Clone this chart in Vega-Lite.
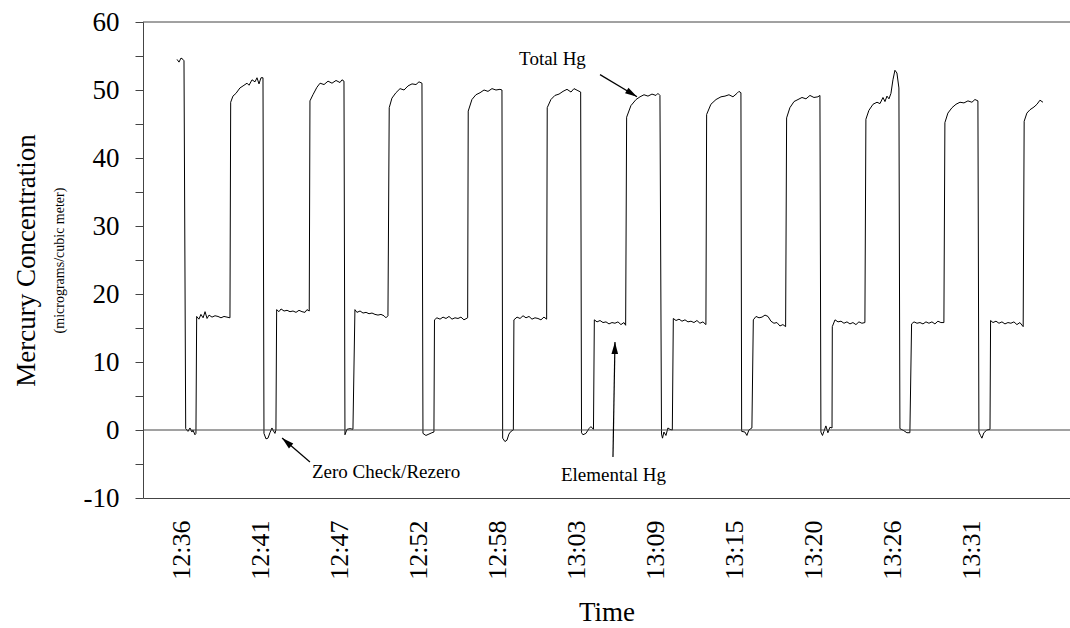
{
  "$schema": "https://vega.github.io/schema/vega-lite/v6.json",
  "width": 927,
  "height": 476,
  "autosize": {"type": "none"},
  "padding": {"left": 143, "top": 22, "right": 0, "bottom": 130},
  "background": "white",
  "config": {
    "view": {"stroke": null},
    "font": "Liberation Serif",
    "axis": {
      "labelFont": "Liberation Serif",
      "titleFont": "Liberation Serif",
      "labelColor": "black",
      "titleColor": "black",
      "titleFontWeight": "normal",
      "grid": false,
      "domainColor": "#444",
      "tickColor": "#444",
      "labelOverlap": false
    }
  },
  "datasets": {
    "refs": [{"v": 0}, {"v": 60}],
    "notes": [
      {"id": "total", "label": "Total Hg", "m": 62.23, "v": 53.73},
      {"id": "elemental", "label": "Elemental Hg", "m": 66.51, "v": -7.51},
      {"id": "zero", "label": "Zero Check/Rezero", "m": 45.33, "v": -7.07}
    ],
    "arrows": [
      {"id": "total", "m": 65.57, "v": 52.26, "m2": 68.17, "v2": 49.02},
      {"id": "zero", "m": 45.19, "v": -4.71, "m2": 43.23, "v2": -1.18},
      {"id": "elemental", "m": 66.48, "v": -3.97, "m2": 66.62, "v2": 12.95}
    ],
    "hg": [
      {"m":35.85,"v":54.5},{"m":35.99,"v":54.1},{"m":36.13,"v":54.7},{"m":36.27,"v":54.5},{"m":36.34,"v":54.3},
      {"m":36.46,"v":0.2},{"m":36.62,"v":-0.2},{"m":36.76,"v":0.3},{"m":36.90,"v":-0.3},{"m":36.97,"v":0.0},{"m":37.11,"v":-0.7},{"m":37.18,"v":-0.5},
      {"m":37.23,"v":16.7},{"m":37.39,"v":16.3},{"m":37.53,"v":17.0},{"m":37.68,"v":16.5},{"m":37.82,"v":17.4},{"m":37.96,"v":16.4},{"m":38.10,"v":16.9},{"m":38.31,"v":16.6},{"m":38.52,"v":16.8},{"m":38.73,"v":16.7},{"m":38.94,"v":16.5},{"m":39.15,"v":16.7},{"m":39.36,"v":16.6},{"m":39.57,"v":16.5},
      {"m":39.62,"v":48.2},{"m":39.78,"v":49.1},{"m":39.99,"v":49.5},{"m":40.27,"v":50.3},{"m":40.49,"v":50.6},{"m":40.77,"v":51.0},{"m":40.91,"v":50.7},{"m":41.12,"v":51.5},{"m":41.33,"v":51.2},{"m":41.47,"v":51.8},{"m":41.61,"v":50.9},{"m":41.75,"v":51.8},{"m":41.89,"v":51.8},
      {"m":41.96,"v":-0.5},{"m":42.10,"v":-1.3},{"m":42.24,"v":-1.2},{"m":42.38,"v":-0.4},{"m":42.52,"v":0.3},{"m":42.59,"v":0.0},{"m":42.73,"v":-0.5},{"m":42.80,"v":0.0},
      {"m":42.85,"v":17.7},{"m":43.01,"v":17.4},{"m":43.16,"v":17.8},{"m":43.37,"v":17.5},{"m":43.58,"v":17.6},{"m":43.79,"v":17.4},{"m":44.00,"v":17.5},{"m":44.21,"v":17.3},{"m":44.42,"v":17.6},{"m":44.63,"v":17.4},{"m":44.84,"v":17.3},{"m":44.98,"v":17.7},{"m":45.14,"v":17.5},
      {"m":45.19,"v":48.4},{"m":45.40,"v":49.3},{"m":45.68,"v":50.4},{"m":45.90,"v":51.0},{"m":46.18,"v":50.8},{"m":46.46,"v":51.3},{"m":46.74,"v":51.0},{"m":47.02,"v":51.4},{"m":47.30,"v":51.1},{"m":47.44,"v":51.5},{"m":47.58,"v":51.3},
      {"m":47.65,"v":-0.7},{"m":47.79,"v":0.1},{"m":48.00,"v":0.2},{"m":48.21,"v":0.1},
      {"m":48.35,"v":17.7},{"m":48.49,"v":17.3},{"m":48.71,"v":17.5},{"m":48.92,"v":17.2},{"m":49.13,"v":17.3},{"m":49.34,"v":17.1},{"m":49.55,"v":17.2},{"m":49.76,"v":17.0},{"m":49.97,"v":16.9},{"m":50.18,"v":17.0},{"m":50.39,"v":16.8},{"m":50.53,"v":16.5},{"m":50.67,"v":16.8},
      {"m":50.76,"v":47.4},{"m":50.95,"v":48.8},{"m":51.23,"v":49.6},{"m":51.52,"v":50.2},{"m":51.80,"v":50.0},{"m":52.08,"v":50.6},{"m":52.36,"v":50.9},{"m":52.64,"v":50.8},{"m":52.85,"v":51.2},{"m":53.06,"v":51.0},
      {"m":53.13,"v":-0.5},{"m":53.34,"v":-0.8},{"m":53.55,"v":-0.6},{"m":53.76,"v":-0.4},{"m":53.90,"v":-0.3},
      {"m":53.94,"v":16.2},{"m":54.11,"v":16.5},{"m":54.33,"v":16.3},{"m":54.54,"v":16.6},{"m":54.75,"v":16.4},{"m":54.96,"v":16.7},{"m":55.17,"v":16.3},{"m":55.38,"v":16.5},{"m":55.59,"v":16.4},{"m":55.80,"v":16.6},{"m":56.01,"v":16.2},{"m":56.27,"v":16.5},
      {"m":56.31,"v":46.9},{"m":56.57,"v":48.6},{"m":56.85,"v":49.3},{"m":57.14,"v":49.6},{"m":57.42,"v":50.0},{"m":57.70,"v":49.8},{"m":57.98,"v":50.2},{"m":58.26,"v":50.0},{"m":58.54,"v":50.1},{"m":58.68,"v":50.0},
      {"m":58.73,"v":-1.2},{"m":58.89,"v":-1.7},{"m":59.03,"v":-1.5},{"m":59.17,"v":-0.6},{"m":59.31,"v":-0.2},{"m":59.48,"v":0.0},
      {"m":59.52,"v":16.2},{"m":59.74,"v":16.6},{"m":59.95,"v":16.4},{"m":60.16,"v":16.8},{"m":60.37,"v":16.5},{"m":60.58,"v":16.7},{"m":60.79,"v":16.3},{"m":61.00,"v":16.5},{"m":61.21,"v":16.4},{"m":61.42,"v":16.2},{"m":61.63,"v":16.6},{"m":61.82,"v":16.3},
      {"m":61.86,"v":47.4},{"m":62.12,"v":48.6},{"m":62.40,"v":49.2},{"m":62.69,"v":49.4},{"m":62.97,"v":49.8},{"m":63.25,"v":50.1},{"m":63.53,"v":49.7},{"m":63.74,"v":50.2},{"m":64.02,"v":49.9},{"m":64.21,"v":49.7},
      {"m":64.27,"v":-0.4},{"m":64.37,"v":-0.7},{"m":64.58,"v":-0.5},{"m":64.79,"v":0.2},{"m":64.93,"v":0.5},{"m":65.11,"v":0.1},
      {"m":65.17,"v":16.2},{"m":65.36,"v":15.9},{"m":65.57,"v":16.1},{"m":65.78,"v":15.8},{"m":65.99,"v":15.9},{"m":66.20,"v":15.6},{"m":66.41,"v":15.8},{"m":66.62,"v":15.7},{"m":66.83,"v":15.9},{"m":67.04,"v":15.5},{"m":67.25,"v":15.8},{"m":67.37,"v":15.4},
      {"m":67.44,"v":46.0},{"m":67.74,"v":47.7},{"m":68.10,"v":48.6},{"m":68.38,"v":49.0},{"m":68.66,"v":49.3},{"m":68.94,"v":49.1},{"m":69.22,"v":49.4},{"m":69.50,"v":49.2},{"m":69.64,"v":49.5},{"m":69.78,"v":49.2},
      {"m":69.89,"v":-0.6},{"m":69.96,"v":-1.2},{"m":70.06,"v":-0.3},{"m":70.20,"v":-0.8},{"m":70.34,"v":0.3},{"m":70.48,"v":0.1},{"m":70.65,"v":0.0},
      {"m":70.72,"v":16.4},{"m":70.91,"v":16.1},{"m":71.12,"v":16.3},{"m":71.33,"v":16.0},{"m":71.54,"v":16.2},{"m":71.75,"v":15.9},{"m":71.96,"v":16.0},{"m":72.17,"v":15.8},{"m":72.38,"v":16.1},{"m":72.59,"v":15.7},{"m":72.80,"v":15.9},{"m":73.01,"v":15.5},
      {"m":73.06,"v":46.4},{"m":73.36,"v":47.9},{"m":73.72,"v":48.6},{"m":74.07,"v":49.0},{"m":74.35,"v":49.1},{"m":74.63,"v":49.3},{"m":74.91,"v":49.0},{"m":75.19,"v":49.5},{"m":75.33,"v":49.8},{"m":75.47,"v":49.6},
      {"m":75.52,"v":-0.2},{"m":75.75,"v":-0.3},{"m":75.89,"v":-0.8},{"m":76.03,"v":0.0},{"m":76.24,"v":0.3},
      {"m":76.34,"v":16.2},{"m":76.53,"v":16.7},{"m":76.74,"v":16.5},{"m":76.95,"v":16.6},{"m":77.16,"v":16.9},{"m":77.37,"v":16.7},{"m":77.58,"v":16.0},{"m":77.79,"v":15.7},{"m":78.00,"v":15.8},{"m":78.21,"v":15.3},{"m":78.42,"v":15.5},{"m":78.61,"v":15.2},
      {"m":78.68,"v":45.9},{"m":78.91,"v":47.4},{"m":79.20,"v":48.3},{"m":79.48,"v":48.6},{"m":79.76,"v":48.9},{"m":80.04,"v":48.7},{"m":80.32,"v":49.2},{"m":80.60,"v":48.9},{"m":80.88,"v":49.0},{"m":81.02,"v":49.2},
      {"m":81.09,"v":-0.3},{"m":81.20,"v":-0.8},{"m":81.30,"v":-0.2},{"m":81.44,"v":0.6},{"m":81.58,"v":-0.4},{"m":81.72,"v":0.4},{"m":81.87,"v":0.3},
      {"m":81.89,"v":15.2},{"m":82.08,"v":16.2},{"m":82.29,"v":15.9},{"m":82.50,"v":16.0},{"m":82.71,"v":15.7},{"m":82.92,"v":15.9},{"m":83.13,"v":15.6},{"m":83.34,"v":15.8},{"m":83.55,"v":15.5},{"m":83.76,"v":15.9},{"m":83.97,"v":15.7},{"m":84.18,"v":15.8},
      {"m":84.25,"v":45.7},{"m":84.46,"v":47.0},{"m":84.75,"v":47.9},{"m":85.03,"v":48.2},{"m":85.24,"v":48.0},{"m":85.45,"v":48.9},{"m":85.59,"v":48.3},{"m":85.73,"v":49.1},{"m":85.87,"v":48.7},{"m":86.01,"v":49.5},{"m":86.15,"v":51.5},{"m":86.29,"v":52.9},{"m":86.43,"v":52.5},{"m":86.57,"v":50.3},
      {"m":86.64,"v":0.2},{"m":86.92,"v":-0.1},{"m":87.13,"v":-0.4},{"m":87.34,"v":-0.4},
      {"m":87.46,"v":15.6},{"m":87.63,"v":15.9},{"m":87.84,"v":15.7},{"m":88.05,"v":15.8},{"m":88.26,"v":15.6},{"m":88.47,"v":15.9},{"m":88.68,"v":15.7},{"m":88.89,"v":15.9},{"m":89.10,"v":15.6},{"m":89.31,"v":16.0},{"m":89.52,"v":15.8},{"m":89.73,"v":15.8},
      {"m":89.80,"v":45.2},{"m":90.01,"v":46.6},{"m":90.30,"v":47.4},{"m":90.58,"v":47.9},{"m":90.86,"v":48.2},{"m":91.14,"v":48.1},{"m":91.42,"v":48.4},{"m":91.70,"v":48.2},{"m":91.91,"v":48.6},{"m":92.12,"v":48.4},
      {"m":92.19,"v":-0.3},{"m":92.30,"v":-0.8},{"m":92.40,"v":-1.2},{"m":92.54,"v":-0.4},{"m":92.75,"v":0.0},{"m":92.97,"v":0.1},
      {"m":93.01,"v":16.1},{"m":93.18,"v":15.8},{"m":93.39,"v":16.0},{"m":93.60,"v":15.7},{"m":93.81,"v":15.9},{"m":94.02,"v":15.6},{"m":94.23,"v":15.8},{"m":94.44,"v":15.7},{"m":94.65,"v":15.9},{"m":94.86,"v":15.5},{"m":95.07,"v":15.8},{"m":95.30,"v":15.2},
      {"m":95.37,"v":45.4},{"m":95.56,"v":46.6},{"m":95.78,"v":47.1},{"m":96.06,"v":47.5},{"m":96.27,"v":47.9},{"m":96.48,"v":48.5},{"m":96.69,"v":48.2}
    ]
  },
  "layer": [
    {
      "data": {"name": "hg"},
      "mark": {"type": "line", "color": "black", "strokeWidth": 1},
      "encoding": {
        "x": {
          "field": "m", "type": "quantitative", "title": "Time",
          "scale": {"domain": [33.46, 98.59], "nice": false, "zero": false},
          "axis": {
            "orient": "bottom",
            "values": [36.2, 41.75, 47.3, 52.85, 58.4, 63.95, 69.5, 75.05, 80.6, 86.15, 91.7],
            "labelExpr": "utcFormat(datum.value * 60000 + 43200000, '%H:%M')",
            "labelAngle": -90, "labelFontSize": 26, "ticks": false, "tickSize": 0, "labelPadding": 22,
            "labelFlush": false, "titleFontSize": 27, "titlePadding": 20
          }
        },
        "y": {
          "field": "v", "type": "quantitative",
          "scale": {"domain": [-10, 60], "nice": false, "zero": false},
          "axis": {
            "orient": "left",
            "values": [-10, -5, 0, 5, 10, 15, 20, 25, 30, 35, 40, 45, 50, 55, 60],
            "labelExpr": "datum.value % 10 === 0 ? '' + datum.value : ''",
            "labelFontSize": 27, "tickSize": 8, "labelPadding": 16,
            "title": "(micrograms/cubic meter)", "titleFontSize": 14, "titlePadding": 17
          }
        }
      }
    },
    {
      "data": {"name": "refs"},
      "mark": {"type": "rule", "color": "#444", "strokeWidth": 1},
      "encoding": {
        "y": {
          "field": "v", "type": "quantitative",
          "axis": {"orient": "left", "title": "Mercury Concentration", "titleFontSize": 27, "titlePadding": 103, "labels": false, "ticks": false, "domain": false}
        }
      }
    },
    {
      "data": {"name": "arrows"},
      "mark": {"type": "rule", "color": "black", "strokeWidth": 1.2},
      "encoding": {
        "x": {"field": "m", "type": "quantitative"},
        "x2": {"field": "m2"},
        "y": {"field": "v", "type": "quantitative", "axis": null},
        "y2": {"field": "v2"}
      }
    },
    {
      "data": {"name": "arrows"},
      "transform": [{"filter": "datum.id === 'total'"}],
      "mark": {"type": "point", "shape": "M0,0L0.55,2L-0.55,2Z", "size": 144, "filled": true, "color": "black", "opacity": 1, "angle": 121, "strokeWidth": 0},
      "encoding": {
        "x": {"field": "m2", "type": "quantitative"},
        "y": {"field": "v2", "type": "quantitative", "axis": null}
      }
    },
    {
      "data": {"name": "arrows"},
      "transform": [{"filter": "datum.id === 'zero'"}],
      "mark": {"type": "point", "shape": "M0,0L0.55,2L-0.55,2Z", "size": 144, "filled": true, "color": "black", "opacity": 1, "angle": 311, "strokeWidth": 0},
      "encoding": {
        "x": {"field": "m2", "type": "quantitative"},
        "y": {"field": "v2", "type": "quantitative", "axis": null}
      }
    },
    {
      "data": {"name": "arrows"},
      "transform": [{"filter": "datum.id === 'elemental'"}],
      "mark": {"type": "point", "shape": "M0,0L0.55,2L-0.55,2Z", "size": 144, "filled": true, "color": "black", "opacity": 1, "angle": 1, "strokeWidth": 0},
      "encoding": {
        "x": {"field": "m2", "type": "quantitative"},
        "y": {"field": "v2", "type": "quantitative", "axis": null}
      }
    },
    {
      "data": {"name": "notes"},
      "transform": [{"filter": "datum.id !== 'zero'"}],
      "mark": {"type": "text", "font": "Liberation Serif", "fontSize": 19, "align": "center", "baseline": "alphabetic", "color": "black"},
      "encoding": {
        "x": {"field": "m", "type": "quantitative"},
        "y": {"field": "v", "type": "quantitative", "axis": null},
        "text": {"field": "label"}
      }
    },
    {
      "data": {"name": "notes"},
      "transform": [{"filter": "datum.id === 'zero'"}],
      "mark": {"type": "text", "font": "Liberation Serif", "fontSize": 19, "align": "left", "baseline": "alphabetic", "color": "black"},
      "encoding": {
        "x": {"field": "m", "type": "quantitative"},
        "y": {"field": "v", "type": "quantitative", "axis": null},
        "text": {"field": "label"}
      }
    }
  ],
  "resolve": {"axis": {"y": "independent"}}
}
